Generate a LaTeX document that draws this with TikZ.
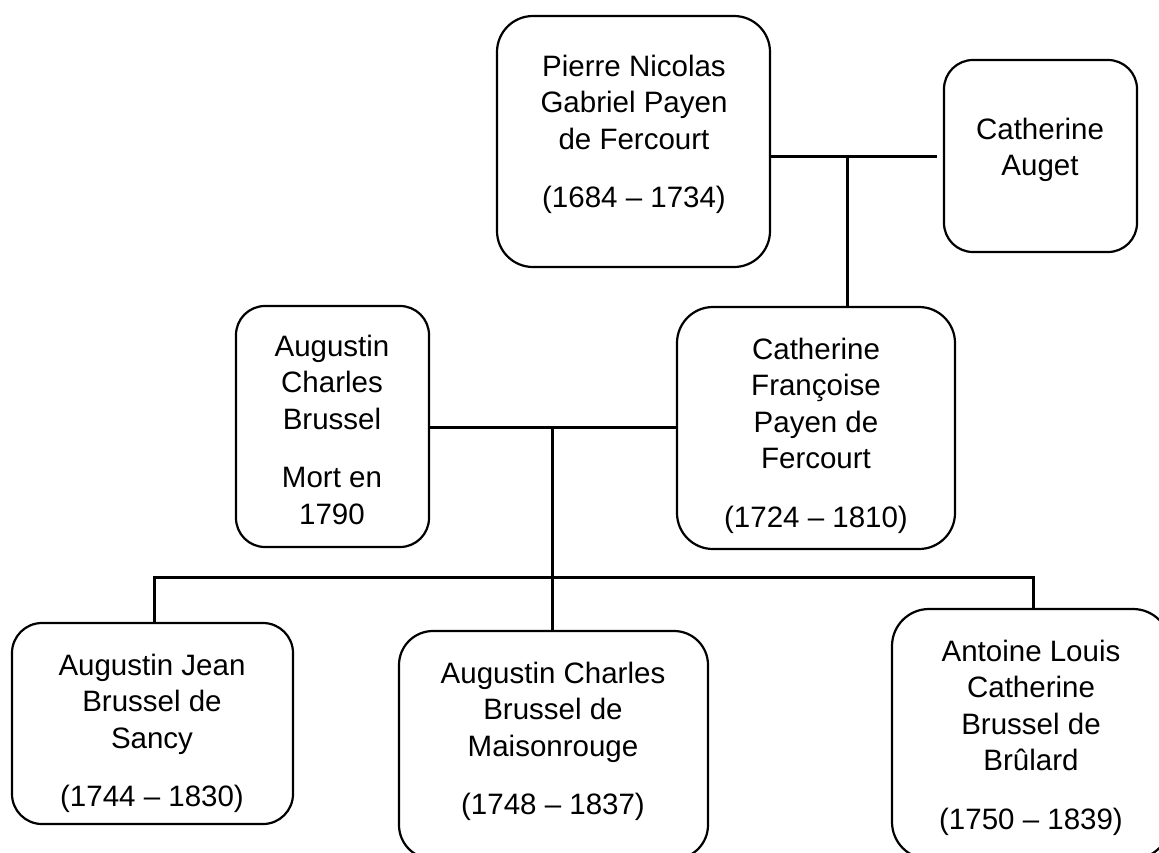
\documentclass[tikz,border=0pt]{standalone}
\usepackage{fontspec}
\setmainfont{Liberation Sans}
\begin{document}
\begin{tikzpicture}[x=1pt,y=-1pt,
  box/.style={draw, line width=2.2pt, rounded corners=#1, inner sep=0pt},
  box/.default=32pt,
  txt/.style={align=center, anchor=north, inner sep=0pt,
    font=\fontsize{29.5pt}{36.5pt}\selectfont},
  conn/.style={line width=3pt}]
\useasboundingbox (0,0) rectangle (1159,852);
\clip (0,0) rectangle (1159,852);
\fill[white] (0,0) rectangle (1159,852);
% boxes
\node[box=36pt, minimum width=273pt, minimum height=251pt] (pierre) at (633.5,141.5) {};
\node[box=29pt, minimum width=193pt, minimum height=192pt] (auget) at (1040.5,156) {};
\node[box=29pt, minimum width=193pt, minimum height=241pt] (acb) at (332.5,426.5) {};
\node[box=36pt, minimum width=278pt, minimum height=242pt] (cathf) at (816,428) {};
\node[box=30pt, minimum width=281pt, minimum height=201pt] (aj) at (152.5,723.5) {};
\node[box=34pt, minimum width=309pt, minimum height=228pt] (maison) at (553.5,745) {};
\node[box=37pt, minimum width=278pt, minimum height=250pt] (antoine) at (1031,734) {};
% texts
\node[txt] (pierre-t) at (634,54.6) {Pierre Nicolas\\Gabriel Payen\\de Fercourt\\[22pt](1684 – 1734)};
\node[txt] (auget-t) at (1040,117.6) {Catherine\\Auget};
\node[txt] (acb-t) at (332,334.6) {Augustin\\Charles\\Brussel\\[22pt]Mort en\\1790};
\node[txt] (cathf-t) at (816,337.6) {Catherine\\Françoise\\Payen de\\Fercourt\\[22pt](1724 – 1810)};
\node[txt] (aj-t) at (152,653.6) {Augustin Jean\\Brussel de\\Sancy\\[22pt](1744 – 1830)};
\node[txt] (maison-t) at (553,661.6) {Augustin Charles\\Brussel de\\Maisonrouge\\[22pt](1748 – 1837)};
\node[txt] (antoine-t) at (1031,639.6) {Antoine Louis\\Catherine\\Brussel de\\Brûlard\\[22pt](1750 – 1839)};
% connectors
\coordinate (m1) at (847,156.5);
\coordinate (m2) at (552,427);
\coordinate (bl) at (154.5,577);
\coordinate (br) at (1033,577);
\draw[conn, shorten >=6pt] (pierre.east |- m1) -- (auget.west |- m1);
\draw[conn] (m1) -- (m1 |- cathf.north);
\draw[conn] (acb.east |- m2) -- (cathf.west |- m2);
\draw[conn] (m2) -- (m2 |- maison.north);
\draw[conn] (aj.north -| bl) -- (bl) -- (br) -- (antoine.north -| br);
\end{tikzpicture}
\end{document}
